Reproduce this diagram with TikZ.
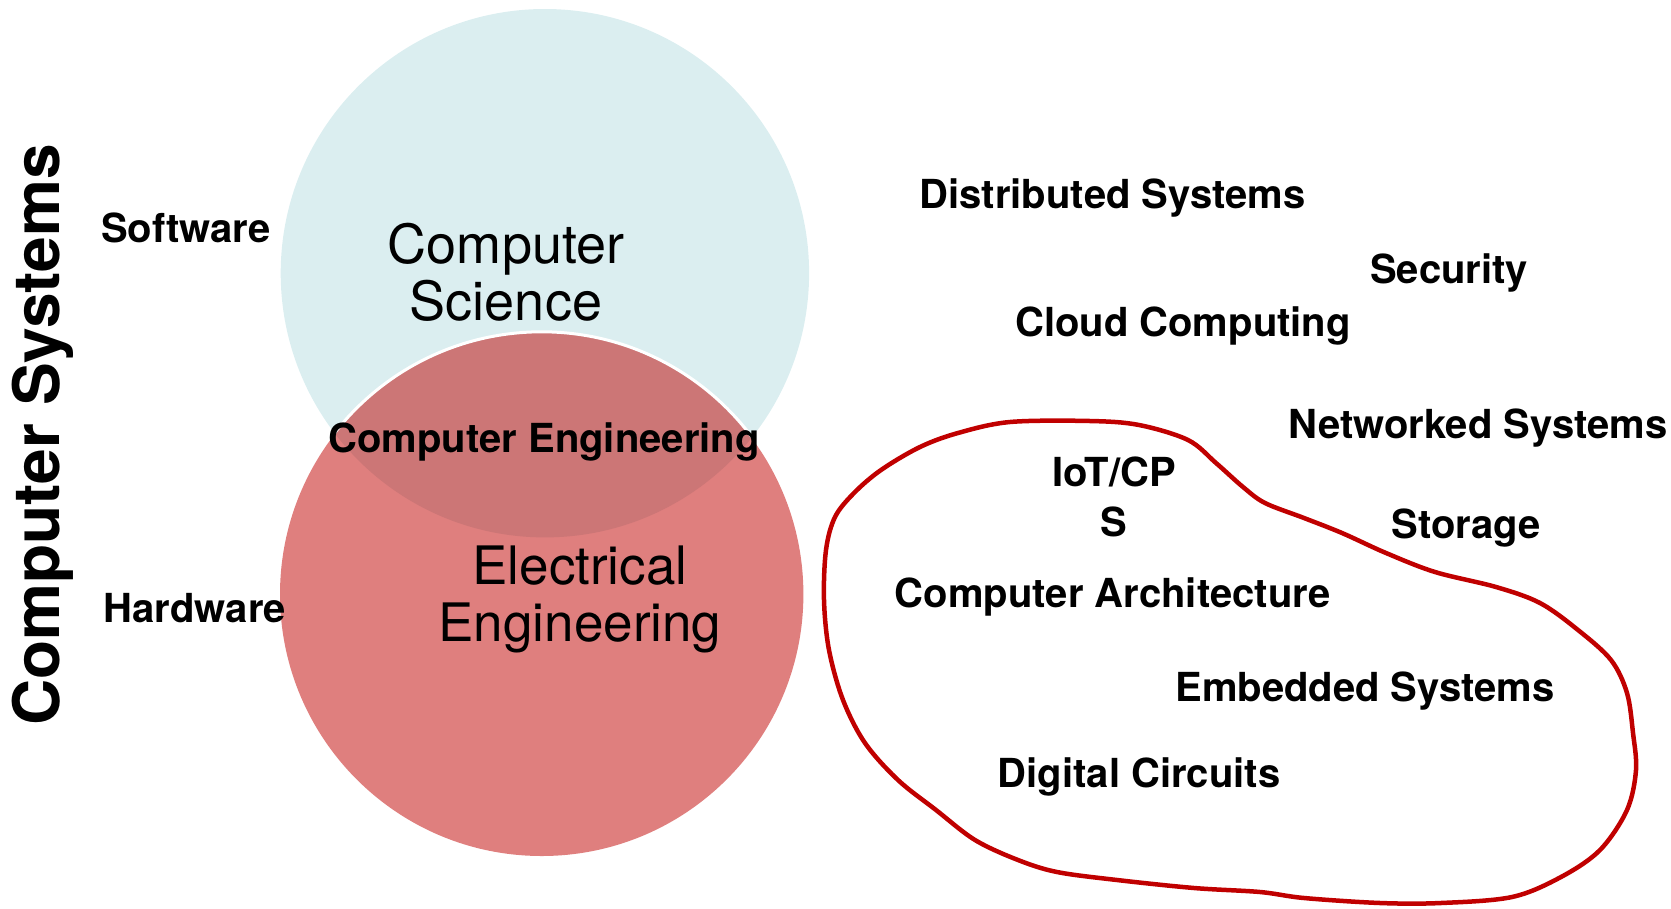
\documentclass[tikz,border=0pt]{standalone}
\usepackage{fontspec}
\setmainfont{TeX Gyre Heros}
\definecolor{csblue}{HTML}{DBEEF0}
\definecolor{eered}{HTML}{DF7F7E}
\definecolor{cered}{HTML}{CC7676}
\definecolor{blobred}{HTML}{C00000}
\tikzset{
  lbl/.style={font=\bfseries\fontsize{40}{46}\selectfont, inner sep=0pt, anchor=center},
  biglbl/.style={font=\fontsize{54}{57}\selectfont, inner sep=0pt, align=center, anchor=center},
  blobline/.style={draw=blobred, line width=4.5pt, line join=round}
}
\begin{document}
\begin{tikzpicture}[x=1pt,y=-1pt]
\useasboundingbox (0,0) rectangle (1671,908);
% circles
\fill[csblue] (544.9,273.2) circle (264.2);
\fill[eered] (541.7,594.3) circle (261.7);
\begin{scope}
  \clip (544.9,273.2) circle (264.2);
  \fill[cered] (541.7,594.3) circle (261.7);
  \draw[white, line width=3pt] (541.7,594.3) circle (262.5);
\end{scope}
% circle labels
\node[biglbl] (cs) at (506,272) {Computer\\Science};
\node[biglbl, font=\fontsize{53}{57}\selectfont] (ee) at (580,599) {Electrical\\Engineering};
\node[lbl] (ce) at (544,442) {Computer Engineering};
% left labels
\node[lbl, font=\bfseries\fontsize{64}{70}\selectfont, rotate=90] (sys) at (43,435) {Computer Systems};
\node[lbl] (sw) at (186,228) {Software};
\node[lbl] (hw) at (195,608) {Hardware};
% right labels
\node[lbl] (dist) at (1112.6,198) {Distributed Systems};
\node[lbl] (sec) at (1449,273) {Security};
\node[lbl] (cloud) at (1183,326) {Cloud Computing};
\node[lbl] (net) at (1478,428) {Networked Systems};
\node[lbl, align=center, font=\bfseries\fontsize{40}{50}\selectfont] (iot) at (1114,497) {IoT/CP\\S};
\node[lbl] (stor) at (1466,528) {Storage};
\node[lbl] (arch) at (1112.6,597) {Computer Architecture};
\node[lbl] (emb) at (1365,691) {Embedded Systems};
\node[lbl] (dig) at (1139,777) {Digital Circuits};
% hand-drawn blob
\draw[blobline] plot[smooth cycle, tension=0.55] coordinates {
  (1010,422) (1090,421) (1139,425) (1188,440) (1216,463) (1243,487)
  (1265,503) (1304,518) (1342,533) (1386,553) (1435,572) (1496,587)
  (1540,603) (1578,630) (1611,660) (1627,693) (1633,733) (1636,770)
  (1627,810) (1600,850) (1561,877) (1512,897) (1441,903) (1380,903)
  (1304,898) (1260,892) (1194,888) (1117,880) (1057,872) (1018,860)
  (975,840) (936,810) (898,780) (865,743) (843,700) (829,650)
  (824,600) (826,550) (835,517) (854,493) (881,470) (920,447) (958,433)
};
\end{tikzpicture}
\end{document}
